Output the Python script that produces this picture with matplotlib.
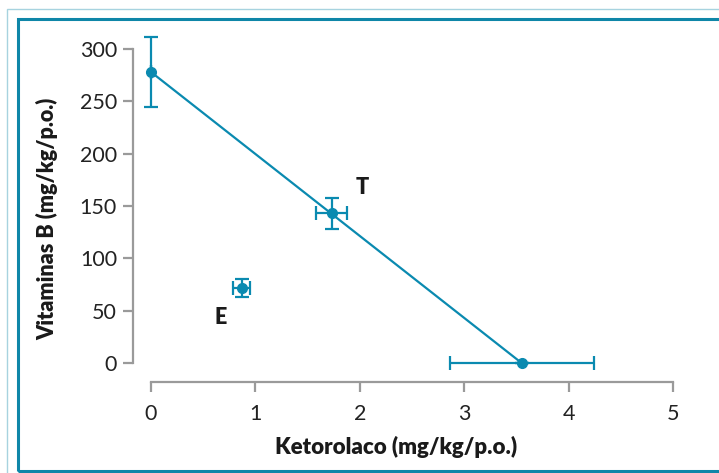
import matplotlib
matplotlib.use("Agg")
import matplotlib.pyplot as plt
from matplotlib.patches import Rectangle

# Data
line_x = [0.0, 3.55]
line_y = [278, 0]
pts_x = [0.0, 1.73, 0.87, 3.55]
pts_y = [278, 143, 72, 0]
xerr = [0.0, 0.15, 0.08, 0.69]
yerr = [33, 15, 8.5, 0]
labels = ["T", "E"]
label_x = [2.02, 0.67]
label_y = [168, 43]
xticks = [0, 1, 2, 3, 4, 5]
yticks = [0, 50, 100, 150, 200, 250, 300]

color = "#0a8ab0"
spine_c = "#9a9a9a"
font = ["Lato", "DejaVu Sans"]

fig = plt.figure(figsize=(7.19, 4.73), dpi=100)
W, H = 719, 473

# borders
fig.patches.append(Rectangle((7 / W, 1 - 480 / H), 720 / W, 471 / H, transform=fig.transFigure,
                             fill=False, edgecolor="#a7d3df", linewidth=1.0))
fig.patches.append(Rectangle((18 / W, 1 - 471 / H), 720 / W, 452 / H, transform=fig.transFigure,
                             fill=False, edgecolor="#0f86a8", linewidth=2.2))

ax = fig.add_axes([133 / W, 1 - 382 / H, (680 - 133) / W, (382 - 35) / H])
ax.set_xlim(-18 / 104.4, 5 + 7 / 104.4)
ax.set_ylim(-19 / 1.0467, 300 + 14 / 1.0467)

ax.plot(line_x, line_y, color=color, linewidth=1.6, zorder=2)
ax.errorbar(pts_x, pts_y, xerr=xerr, yerr=yerr, fmt="o", color=color, markersize=7,
            elinewidth=1.6, capsize=5, capthick=1.6, zorder=3)

for t, x, y in zip(labels, label_x, label_y):
    ax.text(x, y, t, fontsize=15.5, fontweight="heavy", family=font, color="#1a1a1a",
            ha="center", va="center")

for s in ["top", "right"]:
    ax.spines[s].set_visible(False)
for s in ["left", "bottom"]:
    ax.spines[s].set_color(spine_c)
    ax.spines[s].set_linewidth(1.6)
ax.spines["left"].set_bounds(0, 300)
ax.spines["bottom"].set_bounds(0, 5)

ax.set_xticks(xticks)
ax.set_yticks(yticks)
ax.set_xticklabels([str(v) for v in xticks], family=font, fontsize=15.5, color="#222222")
ax.set_yticklabels([str(v) for v in yticks], family=font, fontsize=15.5, color="#222222")
ax.tick_params(axis="both", color=spine_c, width=1.6, length=7.5, pad=4)
ax.tick_params(axis="x", pad=8)

fig.text(396 / W, 1 - 447 / H, "Ketorolaco (mg/kg/p.o.)", fontsize=16, fontweight="heavy",
         family=font, ha="center", va="center", color="#1a1a1a")
fig.text(47 / W, 1 - 219 / H, "Vitaminas B (mg/kg/p.o.)", fontsize=15.5, fontweight="heavy",
         family=font, ha="center", va="center", rotation=90, color="#1a1a1a")

fig.savefig("out.png", dpi=100)
